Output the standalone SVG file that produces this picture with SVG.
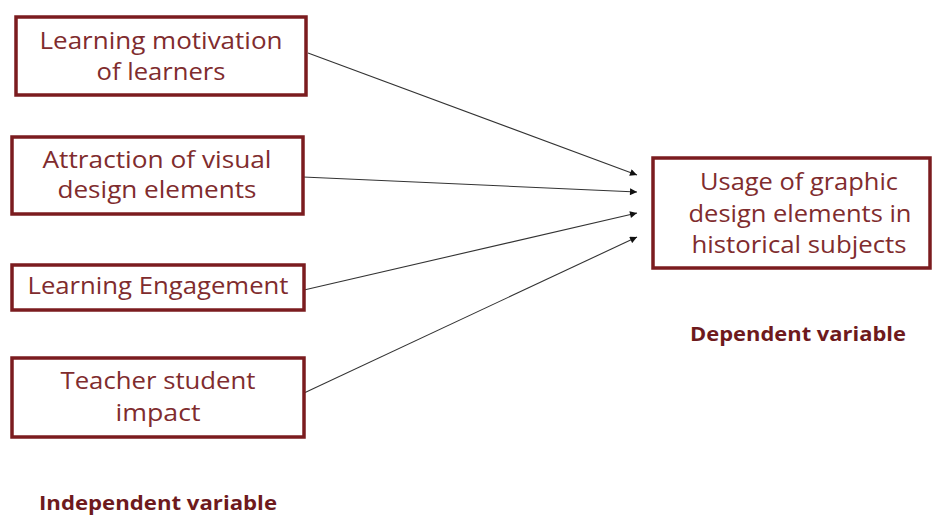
<svg xmlns="http://www.w3.org/2000/svg" width="932" height="517" viewBox="0 0 932 517">
<style>
.box{fill:#fff;stroke:#7b1c1f;stroke-width:3.5}
.t{font-family:"Open Sans","Liberation Sans",sans-serif;font-size:23px;fill:#7f2c2e;text-anchor:middle}
.b{font-family:"Open Sans","Liberation Sans",sans-serif;font-size:19px;font-weight:bold;fill:#6e1a1d;text-anchor:middle}
.c{stroke:#333;stroke-width:1.1;fill:none;marker-end:url(#ah)}
</style>
<defs>
<marker id="ah" viewBox="0 0 10 10" refX="10" refY="5" markerWidth="9" markerHeight="7" markerUnits="userSpaceOnUse" orient="auto">
<path d="M0,0 L10,5 L0,10 z" fill="#111"/>
</marker>
</defs>
<rect width="932" height="517" fill="#fff"/>
<g id="connectors">
<line class="c" x1="308" y1="53" x2="637" y2="175"/>
<line class="c" x1="303" y1="177" x2="637" y2="192"/>
<line class="c" x1="304" y1="290" x2="637" y2="213"/>
<line class="c" x1="304" y1="393" x2="637" y2="237"/>
</g>
<g id="n1">
<rect class="box" x="16" y="17" width="290" height="78"/>
<text class="t" x="161" y="49" textLength="243" lengthAdjust="spacingAndGlyphs">Learning motivation</text>
<text class="t" x="161" y="80" textLength="129" lengthAdjust="spacingAndGlyphs">of learners</text>
</g>
<g id="n2">
<rect class="box" x="12" y="137" width="291" height="77"/>
<text class="t" x="157" y="168" textLength="229" lengthAdjust="spacingAndGlyphs">Attraction of visual</text>
<text class="t" x="157" y="198" textLength="199" lengthAdjust="spacingAndGlyphs">design elements</text>
</g>
<g id="n3">
<rect class="box" x="12" y="265" width="292" height="45"/>
<text class="t" x="158" y="294" textLength="261" lengthAdjust="spacingAndGlyphs">Learning Engagement</text>
</g>
<g id="n4">
<rect class="box" x="12" y="358" width="292" height="79"/>
<text class="t" x="158" y="389" textLength="195" lengthAdjust="spacingAndGlyphs">Teacher student</text>
<text class="t" x="158" y="421" textLength="85" lengthAdjust="spacingAndGlyphs">impact</text>
</g>
<g id="n5">
<rect class="box" x="653" y="158" width="277" height="110"/>
<text class="t" x="799" y="190" textLength="198" lengthAdjust="spacingAndGlyphs">Usage of graphic</text>
<text class="t" x="800" y="222" textLength="223" lengthAdjust="spacingAndGlyphs">design elements in</text>
<text class="t" x="799" y="253" textLength="215" lengthAdjust="spacingAndGlyphs">historical subjects</text>
</g>
<g id="label-dependent">
<text class="b" x="798" y="341" textLength="216" lengthAdjust="spacingAndGlyphs">Dependent variable</text>
</g>
<g id="label-independent">
<text class="b" x="158" y="510" textLength="238" lengthAdjust="spacingAndGlyphs">Independent variable</text>
</g>
</svg>
